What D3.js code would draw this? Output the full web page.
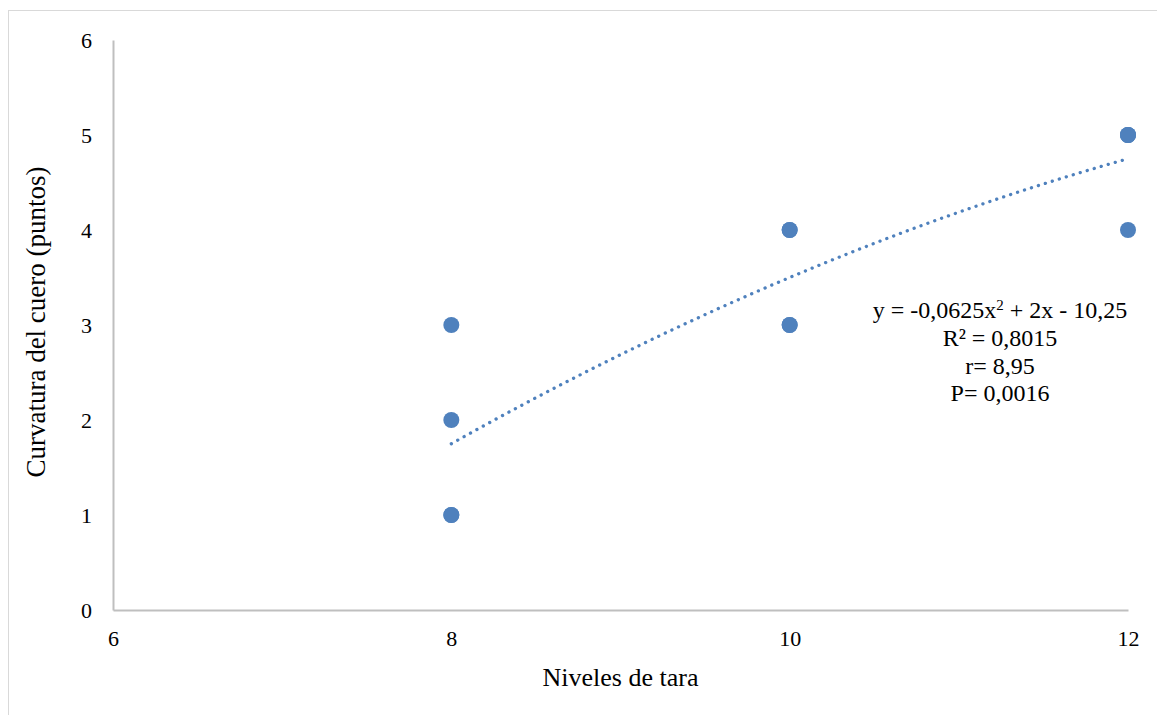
<!DOCTYPE html>
<html>
<head>
<meta charset="utf-8">
<script src="https://cdn.jsdelivr.net/npm/d3@7/dist/d3.min.js"></script>
<style>
  html, body { margin: 0; padding: 0; background: #fff; }
  svg text { font-family: "Liberation Serif", "Times New Roman", serif; fill: #000; }
</style>
</head>
<body>
<svg id="chart" width="1157" height="715"></svg>
<script>
// Observations: tara level and neck curvature score
const taraLevels = [8, 8, 8, 8, 10, 10, 10, 10, 12, 12, 12, 12];
const curvature  = [1, 1, 2, 3, 3, 3, 4, 4, 4, 5, 5, 5];

// Axis ticks
const xTicks = [6, 8, 10, 12];
const yTicks = [0, 1, 2, 3, 4, 5, 6];

// Polynomial trendline coefficients (a*x^2 + b*x + c) and its span
const trendCoef = [-0.0625, 2, -10.25];
const trendSpan = [8, 12];

// Statistics annotation (the first line carries a superscript exponent)
const eqParts = ["y = -0,0625x", "2", " + 2x - 10,25"];
const statLines = ["R\u00B2 = 0,8015", "r= 8,95", "P= 0,0016"];

const svg = d3.select("#chart");
const margin = { left: 113, right: 29, top: 40, bottom: 105 };
const W = 1157, H = 715;
const serif = "'Liberation Serif', 'Times New Roman', serif";

// Chart area frame
svg.append("rect")
  .attr("x", 8.5).attr("y", 10.5)
  .attr("width", W + 10).attr("height", H + 10)
  .attr("fill", "none").attr("stroke", "#d9d9d9").attr("stroke-width", 1);

const x = d3.scaleLinear().domain([6, 12]).range([margin.left, W - margin.right]);
const y = d3.scaleLinear().domain([0, 6]).range([H - margin.bottom, margin.top]);

// Axes
const xAxis = svg.append("g")
  .attr("transform", `translate(0,${y(0)})`)
  .call(d3.axisBottom(x).tickValues(xTicks).tickFormat(d3.format("d")).tickSize(0).tickPadding(20));
const yAxis = svg.append("g")
  .attr("transform", `translate(${x(6)},0)`)
  .call(d3.axisLeft(y).tickValues(yTicks).tickFormat(d3.format("d")).tickSize(0).tickPadding(21));

[xAxis, yAxis].forEach(g => {
  g.select(".domain").attr("stroke", "#bfbfbf").attr("stroke-width", 2);
  g.selectAll("text")
    .style("font-family", serif)
    .style("font-size", "22px").attr("fill", "#000");
});

// Trendline from coefficients
const poly = v => trendCoef[0] * v * v + trendCoef[1] * v + trendCoef[2];
const trendPts = d3.range(trendSpan[0], trendSpan[1] + 1e-9, 0.05).map(v => [v, poly(v)]);
svg.append("path")
  .datum(trendPts)
  .attr("fill", "none")
  .attr("stroke", "#4f81bd")
  .attr("stroke-width", 3.3)
  .attr("stroke-linecap", "round")
  .attr("stroke-dasharray", "0.1 7.2")
  .attr("d", d3.line().x(d => x(d[0])).y(d => y(d[1])));

// Points
svg.append("g").selectAll("circle")
  .data(taraLevels.map((t, i) => ({ t, c: curvature[i] })))
  .join("circle")
  .attr("cx", d => x(d.t))
  .attr("cy", d => y(d.c))
  .attr("r", 8)
  .attr("fill", "#4f81bd");

// Axis titles
svg.append("text")
  .attr("x", (x(6) + x(12)) / 2).attr("y", 686)
  .attr("text-anchor", "middle")
  .style("font-size", "26px")
  .text("Niveles de tara");

svg.append("text")
  .attr("transform", `translate(45,${(y(0) + y(6)) / 2 - 3}) rotate(-90)`)
  .attr("text-anchor", "middle")
  .style("font-size", "27px")
  .text("Curvatura del cuero (puntos)");

// Statistics
const stat = svg.append("text")
  .attr("text-anchor", "middle")
  .style("font-size", "24px");
const eq = stat.append("tspan").attr("x", 1000).attr("y", 318);
eq.append("tspan").text(eqParts[0]);
eq.append("tspan").attr("dy", -8).style("font-size", "15px").text(eqParts[1]);
eq.append("tspan").attr("dy", 8).text(eqParts[2]);
statLines.forEach((s, i) => {
  stat.append("tspan").attr("x", 1000).attr("y", 346 + i * 27.5).text(s);
});
</script>
</body>
</html>
